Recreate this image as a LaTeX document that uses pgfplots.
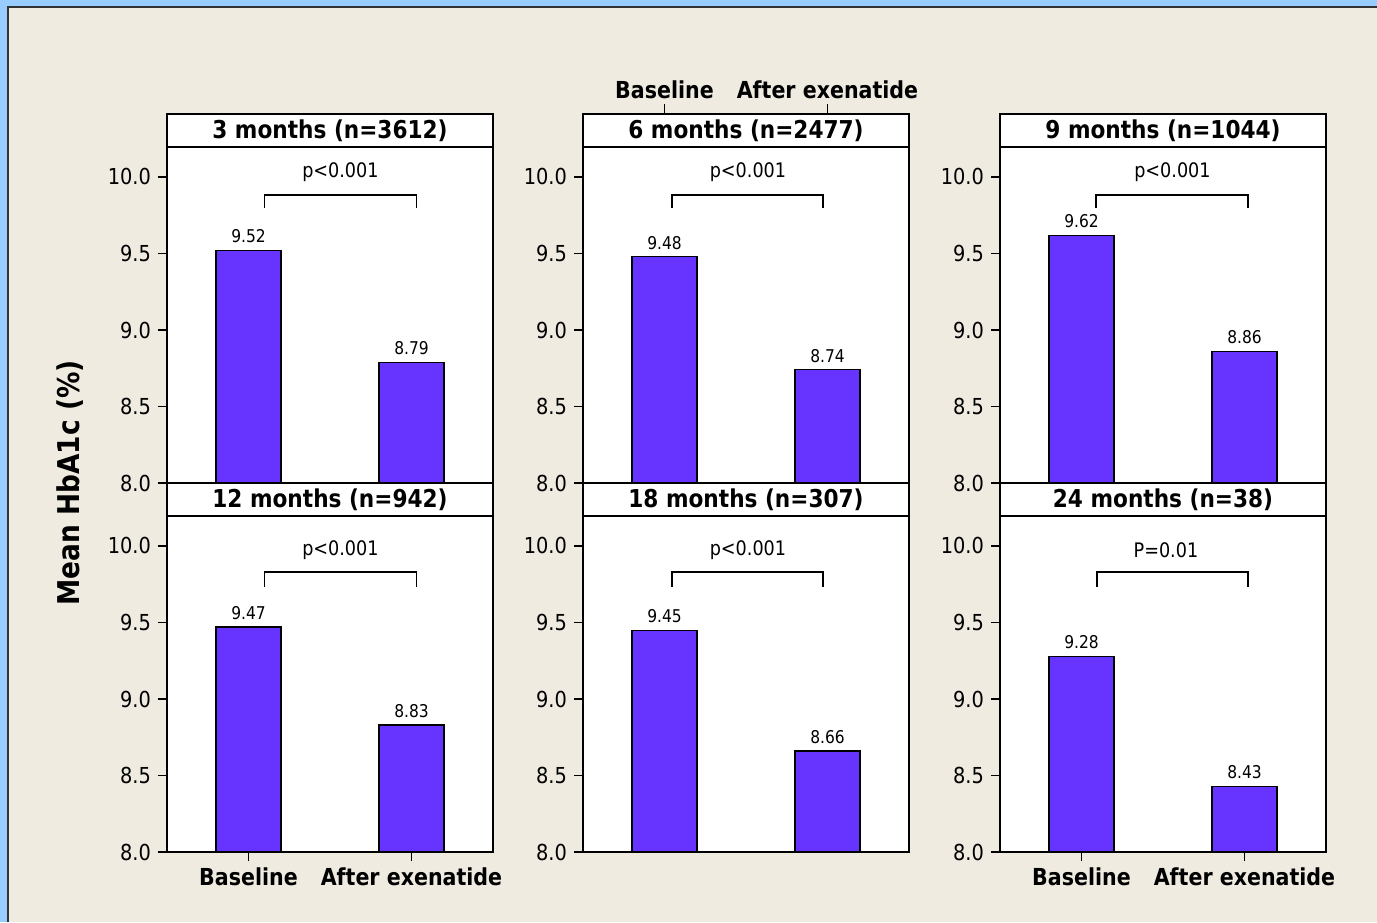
\documentclass[border=0pt]{standalone}
\usepackage{fontspec}
\setmainfont{DejaVu Sans}[FakeStretch=0.88]
\usepackage{pgfplots}
\pgfplotsset{compat=1.18}

\definecolor{frameblue}{RGB}{153,204,255}
\definecolor{paper}{RGB}{239,235,225}
\definecolor{barfill}{RGB}{102,51,255}

\pgfplotsset{
  panel/.style={
    scale only axis, width=163pt, height=168pt,
    xmin=-0.5, xmax=1.5, ymin=8, ymax=10.196,
    ytick={8,8.5,9,9.5,10},
    yticklabel style={font=\fontsize{11}{13}\selectfont,
      /pgf/number format/fixed, /pgf/number format/fixed zerofill,
      /pgf/number format/precision=1, /pgf/number format/assume math mode=true},
    xtick=\empty,
    tick align=outside, major tick length=4.5pt,
    ytick pos=left,
    axis line style={line width=1pt},
    every tick/.style={line width=0.8pt, black},
    clip mode=individual,
    axis background/.style={fill=white},
    ybar, bar width=32.5pt,
    nodes near coords,
    every node near coord/.append style={font=\fontsize{8.8}{10}\selectfont,
      /pgf/number format/fixed, /pgf/number format/fixed zerofill,
      /pgf/number format/precision=2, /pgf/number format/assume math mode=true},
  },
  bottomlabels/.style={
    xtick={0,1}, xticklabels={Baseline, After exenatide},
    xtick pos=bottom,
    xticklabel style={font=\bfseries\fontsize{11.7}{13}\selectfont},
  },
  bars/.style={fill=barfill, draw=black, line width=0.6pt},
}

% title strip above a panel
\newcommand{\strip}[1]{%
  \draw[line width=1pt, fill=white] (rel axis cs:0,1) rectangle (rel axis cs:1,1.0982);
  \node[font=\bfseries\fontsize{12.3}{14}\selectfont] at (rel axis cs:0.5,1.0491) {#1};
}
% significance bracket: left x, right x, bar y, foot y, text x, text y, text
\newcommand{\bracket}[7]{%
  \draw[line width=0.8pt] (axis cs:#1,#4) |- (axis cs:#2,#3) -- (axis cs:#2,#4);
  \node[font=\fontsize{10}{12}\selectfont] at (axis cs:#5,#6) {#7};
}
% category tick and label above the title strip
\newcommand{\toptick}[2]{%
  \draw[line width=0.8pt] ([yshift=16.5pt]axis cs:#1,10.196) -- ([yshift=21.5pt]axis cs:#1,10.196)
    node[above, inner sep=2pt, font=\bfseries\fontsize{11.7}{13}\selectfont] {#2};
}

\begin{document}
\begin{tikzpicture}
  \useasboundingbox (0,0) rectangle (688.5pt,461pt);
  \fill[frameblue] (0,0) rectangle (688.5pt,461pt);
  \fill[paper] (4pt,0) rectangle (688.5pt,457.5pt);
  \draw[line width=0.6pt, black!80] (4pt,0) -- (4pt,457.5pt) -- (688.5pt,457.5pt);

  \node[rotate=90, font=\bfseries\fontsize{15}{17}\selectfont] at (35pt,219.5pt) {Mean HbA1c (\%)};

  % row 1
  \begin{axis}[panel, at={(83.5pt,219.5pt)}]
    \addplot[bars] coordinates {(0,9.52) (1,8.79)};
    \strip{3 months (n=3612)}
    \bracket{0.098}{1.031}{9.882}{9.797}{0.564}{10.03}{p<0.001}
  \end{axis}

  \begin{axis}[panel, at={(291.5pt,219.5pt)}]
    \addplot[bars] coordinates {(0,9.48) (1,8.74)};
    \strip{6 months (n=2477)}
    \bracket{0.046}{0.972}{9.882}{9.797}{0.512}{10.03}{p<0.001}
    \toptick{0}{Baseline}
    \toptick{1}{After exenatide}
  \end{axis}

  \begin{axis}[panel, at={(500pt,219.5pt)}]
    \addplot[bars] coordinates {(0,9.62) (1,8.86)};
    \strip{9 months (n=1044)}
    \bracket{0.089}{1.021}{9.882}{9.797}{0.558}{10.03}{p<0.001}
  \end{axis}

  % row 2
  \begin{axis}[panel, bottomlabels, at={(83.5pt,35pt)}]
    \addplot[bars] coordinates {(0,9.47) (1,8.83)};
    \strip{12 months (n=942)}
    \bracket{0.098}{1.031}{9.83}{9.732}{0.564}{9.974}{p<0.001}
  \end{axis}

  \begin{axis}[panel, at={(291.5pt,35pt)}]
    \addplot[bars] coordinates {(0,9.45) (1,8.66)};
    \strip{18 months (n=307)}
    \bracket{0.046}{0.972}{9.83}{9.732}{0.512}{9.974}{p<0.001}
  \end{axis}

  \begin{axis}[panel, bottomlabels, at={(500pt,35pt)}]
    \addplot[bars] coordinates {(0,9.28) (1,8.43)};
    \strip{24 months (n=38)}
    \bracket{0.095}{1.021}{9.83}{9.732}{0.518}{9.974}{P=0.01}
  \end{axis}
\end{tikzpicture}
\end{document}
